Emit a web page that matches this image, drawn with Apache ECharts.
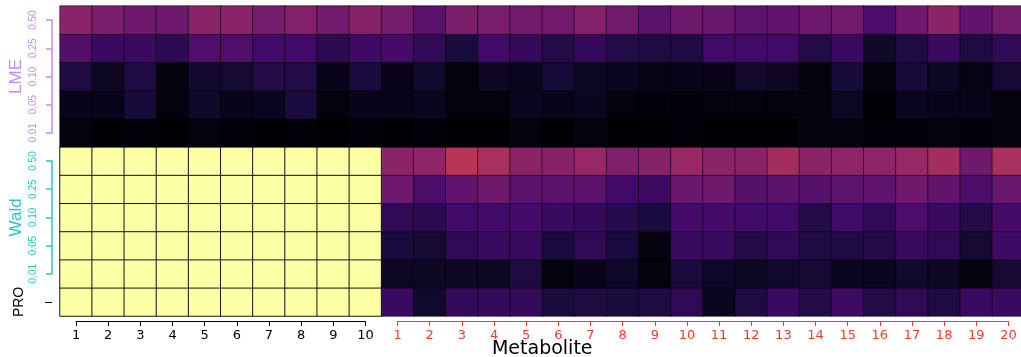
<!DOCTYPE html>
<html>
<head>
<meta charset="utf-8">
<script src="https://cdn.jsdelivr.net/npm/echarts@6/dist/echarts.min.js"></script>
<style>
html,body{margin:0;padding:0;background:#fff;}
#chart{width:1021px;height:357px;}
</style>
</head>
<body>
<div id="chart"></div>
<script>
// ---- data ----
const blackMetabolites = ['1','2','3','4','5','6','7','8','9','10'];
const redMetabolites = ['1','2','3','4','5','6','7','8','9','10','11','12','13','14','15','16','17','18','19','20'];
const alphaLabels = ['0.50','0.25','0.10','0.05','0.01'];
const proLabel = 'PRO';

const lme050 = [0.38,0.34,0.31,0.31,0.38,0.38,0.33,0.36,0.32,0.37, 0.33,0.26,0.34,0.34,0.32,0.32,0.36,0.32,0.26,0.31, 0.30,0.27,0.28,0.31,0.32,0.22,0.31,0.38,0.28,0.33];
const lme025 = [0.24,0.18,0.18,0.15,0.23,0.23,0.20,0.20,0.15,0.19, 0.21,0.16,0.11,0.20,0.17,0.13,0.17,0.13,0.12,0.12, 0.20,0.20,0.20,0.13,0.18,0.07,0.12,0.18,0.12,0.16];
const lme010 = [0.12,0.06,0.12,0.02,0.08,0.09,0.13,0.13,0.04,0.11, 0.04,0.08,0.02,0.06,0.05,0.10,0.06,0.05,0.03,0.04, 0.04,0.08,0.06,0.02,0.10,0.02,0.10,0.06,0.03,0.09];
const lme005 = [0.04,0.04,0.10,0.02,0.07,0.04,0.05,0.11,0.02,0.04, 0.04,0.05,0.02,0.02,0.05,0.04,0.05,0.02,0.015,0.015, 0.02,0.02,0.02,0.02,0.06,0.00,0.05,0.04,0.04,0.02];
const lme001 = [0.02,0.00,0.01,0.00,0.02,0.01,0.00,0.01,0.00,0.01, 0.00,0.01,0.00,0.00,0.02,0.00,0.02,0.00,0.00,0.01, 0.00,0.00,0.00,0.02,0.02,0.01,0.01,0.02,0.01,0.02];
const wald050 = [1,1,1,1,1,1,1,1,1,1, 0.38,0.39,0.49,0.45,0.38,0.37,0.41,0.35,0.37,0.41, 0.38,0.38,0.44,0.38,0.39,0.39,0.41,0.44,0.31,0.45];
const wald025 = [1,1,1,1,1,1,1,1,1,1, 0.31,0.22,0.28,0.31,0.26,0.26,0.26,0.20,0.19,0.30, 0.31,0.25,0.26,0.25,0.27,0.27,0.31,0.28,0.22,0.30];
const wald010 = [1,1,1,1,1,1,1,1,1,1, 0.16,0.15,0.20,0.20,0.21,0.18,0.17,0.14,0.11,0.21, 0.21,0.20,0.20,0.13,0.20,0.16,0.22,0.18,0.13,0.21];
const wald005 = [1,1,1,1,1,1,1,1,1,1, 0.11,0.09,0.16,0.18,0.18,0.11,0.16,0.11,0.02,0.18, 0.18,0.13,0.16,0.12,0.12,0.13,0.18,0.16,0.09,0.19];
const wald001 = [1,1,1,1,1,1,1,1,1,1, 0.06,0.06,0.06,0.06,0.12,0.02,0.04,0.07,0.02,0.11, 0.07,0.06,0.08,0.09,0.05,0.05,0.08,0.06,0.02,0.09];
const pro    = [1,1,1,1,1,1,1,1,1,1, 0.18,0.08,0.17,0.17,0.17,0.11,0.12,0.11,0.12,0.16, 0.05,0.12,0.18,0.13,0.19,0.13,0.16,0.12,0.18,0.18];

// ---- build ----
const FONT = '"Liberation Sans", Arial, Helvetica, sans-serif';
const WIDE = '"DejaVu Sans", "Liberation Sans", Arial, sans-serif';
const LME_COLOR = '#c48af5';
const WALD_COLOR = '#2cc5cc';
const RED = '#e8402c';
const inferno = ['#000004','#160b39','#420a68','#6a176e','#932667','#bc3754','#dd513a','#f37819','#fca50a','#f6d746','#fcffa4'];

const xCats = blackMetabolites.map(s => 'b' + s).concat(redMetabolites.map(s => 'r' + s));
// rows bottom -> top
const rows = [
  {key:'PRO', vals: pro},
  {key:'W0.01', vals: wald001},
  {key:'W0.05', vals: wald005},
  {key:'W0.10', vals: wald010},
  {key:'W0.25', vals: wald025},
  {key:'W0.50', vals: wald050},
  {key:'L0.01', vals: lme001},
  {key:'L0.05', vals: lme005},
  {key:'L0.10', vals: lme010},
  {key:'L0.25', vals: lme025},
  {key:'L0.50', vals: lme050}
];
const yCats = rows.map(r => r.key);
const heatData = [];
rows.forEach((r, yi) => {
  r.vals.forEach((v, xi) => {
    const item = {value: [xi, yi, v]};
    if (v >= 1) item.itemStyle = {borderColor: '#1a1a1a', borderWidth: 1};
    heatData.push(item);
  });
});

const alphaAsc = alphaLabels.slice().reverse();

// geometry of the main plot
const G = {left: 60, top: 6, width: 964.5, height: 310};
const colW = G.width / xCats.length;
const rowH = G.height / yCats.length;

const chart = echarts.init(document.getElementById('chart'), null, {renderer: 'canvas'});

const NB = {outerBoundsMode: 'none', containLabel: false};
const option = {
  animation: false,
  backgroundColor: '#fff',
  textStyle: {fontFamily: FONT},
  visualMap: {
    show: false, type: 'continuous', min: 0, max: 1, seriesIndex: 0, dimension: 2,
    inRange: {color: inferno}
  },
  grid: [
    Object.assign({left: G.left, top: G.top, width: G.width, height: G.height}, NB),
    // LME bracket
    Object.assign({left: 52, top: G.top + rowH * 0.5, height: rowH * 4, width: 5}, NB),
    // Wald bracket
    Object.assign({left: 52, top: G.top + rowH * 5.5, height: rowH * 4, width: 5}, NB),
    // black x bracket
    Object.assign({left: G.left + colW * 0.5, width: colW * 9, top: 300, height: 21}, NB),
    // red x bracket
    Object.assign({left: G.left + colW * 10.5, width: colW * 19, top: 300, height: 21}, NB)
  ],
  xAxis: [
    {gridIndex: 0, type: 'category', data: xCats, axisLine: {show: false}, axisTick: {show: false},
     axisLabel: {show: false}, splitLine: {show: false},
     name: 'Metabolite', nameLocation: 'middle', nameGap: 24,
     nameTextStyle: {fontSize: 19, color: '#000', fontFamily: WIDE, verticalAlign: 'top'}},
    {gridIndex: 1, type: 'value', show: false},
    {gridIndex: 2, type: 'value', show: false},
    {gridIndex: 3, type: 'value', min: 0, max: 9, interval: 1, position: 'bottom',
     axisLine: {show: true, lineStyle: {color: '#000', width: 1}},
     axisTick: {show: true, length: 5, inside: false, lineStyle: {color: '#000'}},
     splitLine: {show: false},
     axisLabel: {show: true, margin: 8, fontSize: 13, color: '#000', fontFamily: WIDE,
       formatter: v => blackMetabolites[v] || ''}},
    {gridIndex: 4, type: 'value', min: 0, max: 19, interval: 1, position: 'bottom',
     axisLine: {show: true, lineStyle: {color: RED, width: 1}},
     axisTick: {show: true, length: 5, inside: false, lineStyle: {color: RED}},
     splitLine: {show: false},
     axisLabel: {show: true, margin: 8, fontSize: 13, color: RED, fontFamily: WIDE,
       formatter: v => redMetabolites[v] || ''}}
  ],
  yAxis: [
    {gridIndex: 0, type: 'category', data: yCats, offset: 8,
     axisLine: {show: false},
     axisTick: {show: true, alignWithLabel: true, length: 7, inside: false,
       interval: (i) => i === 0, lineStyle: {color: '#000'}},
     axisLabel: {show: true, rotate: 90, margin: 26, fontSize: 14, color: '#000', fontFamily: FONT,
       interval: (i) => i === 0, formatter: v => (v === 'PRO' ? proLabel : '')},
     splitLine: {show: false}},
    {gridIndex: 1, type: 'value', min: 0, max: 4, interval: 1, position: 'left',
     axisLine: {show: true, lineStyle: {color: LME_COLOR, width: 1.5}},
     axisTick: {show: true, length: 6, inside: false, lineStyle: {color: LME_COLOR, width: 1.5}},
     splitLine: {show: false},
     axisLabel: {show: true, rotate: 90, margin: 14, fontSize: 10, color: LME_COLOR, fontFamily: FONT,
       formatter: v => alphaAsc[v] || ''},
     name: 'LME', nameLocation: 'middle', nameRotate: 90, nameGap: 27,
     nameTextStyle: {fontSize: 17, color: LME_COLOR, fontFamily: FONT}},
    {gridIndex: 2, type: 'value', min: 0, max: 4, interval: 1, position: 'left',
     axisLine: {show: true, lineStyle: {color: WALD_COLOR, width: 1.5}},
     axisTick: {show: true, length: 6, inside: false, lineStyle: {color: WALD_COLOR, width: 1.5}},
     splitLine: {show: false},
     axisLabel: {show: true, rotate: 90, margin: 14, fontSize: 10, color: WALD_COLOR, fontFamily: FONT,
       formatter: v => alphaAsc[v] || ''},
     name: 'Wald', nameLocation: 'middle', nameRotate: 90, nameGap: 27,
     nameTextStyle: {fontSize: 17, color: WALD_COLOR, fontFamily: FONT}},
    {gridIndex: 3, type: 'value', show: false},
    {gridIndex: 4, type: 'value', show: false}
  ],
  series: [{
    type: 'heatmap',
    xAxisIndex: 0, yAxisIndex: 0,
    data: heatData,
    itemStyle: {borderColor: 'rgba(0,0,0,0.55)', borderWidth: 1},
    emphasis: {disabled: true}
  }]
};
chart.setOption(option);
</script>
</body>
</html>
